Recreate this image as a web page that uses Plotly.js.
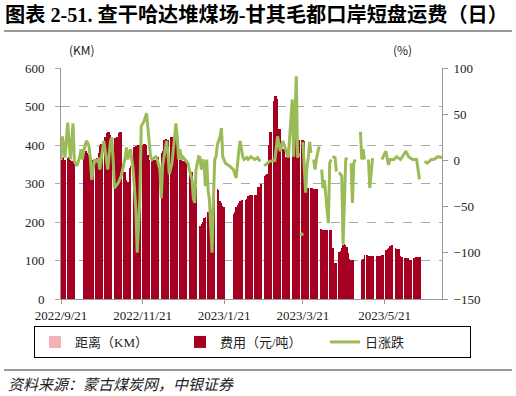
<!DOCTYPE html>
<html>
<head>
<meta charset="utf-8">
<script src="https://cdn.plot.ly/plotly-3.0.1.min.js"></script>
<style>html,body{margin:0;padding:0;background:#fff;}#chart{width:516px;height:396px;}</style>
</head>
<body>
<div id="chart"></div>
<script>
// ---- data ----
const titleText = '图表 2-51. 查干哈达堆煤场-甘其毛都口岸短盘运费（日）';
const sourceText = '资料来源：蒙古煤炭网，中银证券';
const seriesNames = ['距离（KM）', '费用（元/吨）', '日涨跌'];
const tickDates = ['2022-09-21', '2022-11-21', '2023-01-21', '2023-03-21', '2023-05-21'];
const tickLabels = ['2022/9/21', '2022/11/21', '2023/1/21', '2023/3/21', '2023/5/21'];

// fee (元/吨), one row per week Mon..Sun, first Monday below
const feeFirstMonday = '2022-09-19';
const feeWeeks = [
  [null,null,360,365,370,360,null],
  [365,370,360,358,358,358,null],
  [null,null,null,null,null,385,385],
  [385,380,375,370,365,360,null],
  [360,365,380,398,402,402,null],
  [420,432,433,433,425,418,null],
  [418,418,420,430,433,433,null],
  [330,330,308,305,340,345,null],
  [395,396,398,400,400,400,null],
  [400,403,403,400,375,362,null],
  [362,362,360,362,368,370,null],
  [380,385,412,415,415,412,null],
  [420,422,422,423,423,423,null],
  [362,360,358,358,358,358,null],
  [335,333,330,300,292,292,null],
  [null,190,195,200,210,212,null],
  [225,226,228,230,284,285,null],
  [285,282,255,250,242,240,null],
  [null,null,null,null,null,222,225],
  [240,245,250,255,256,256,null],
  [258,260,268,270,270,270,null],
  [270,270,290,292,298,300,null],
  [320,323,325,400,435,435,null],
  [515,526,526,520,441,441,null],
  [390,388,370,368,390,392,null],
  [418,418,418,412,412,412,null],
  [412,412,410,340,288,288,null],
  [288,288,287,287,286,286,null],
  [182,182,178,178,178,178,null],
  [178,178,132,132,93,93,null],
  [123,124,132,140,142,140,135],
  [120,103,102,102,102,null,null],
  [null,null,null,102,103,115,null],
  [115,113,111,111,111,111,null],
  [111,111,111,113,115,115,null],
  [128,130,132,138,140,140,null],
  [132,130,130,130,112,110,null],
  [106,106,106,106,102,102,null],
  [106,108,108,108,110,110,null]
];

// daily change (%), null = break in the line
const chgDates = [
 '2022-09-21','2022-09-22','2022-09-24','2022-09-26','2022-09-28','2022-09-30','2022-10-01','2022-10-03','2022-10-05','2022-10-06',
 '2022-10-07','2022-10-08','2022-10-10','2022-10-11','2022-10-12','2022-10-13','2022-10-14','2022-10-16','2022-10-17','2022-10-19',
 '2022-10-20','2022-10-21','2022-10-23','2022-10-25','2022-10-26','2022-10-28','2022-10-29','2022-10-30','2022-10-31','2022-11-03',
 '2022-11-05','2022-11-08','2022-11-09','2022-11-10','2022-11-12','2022-11-14','2022-11-16','2022-11-17','2022-11-19','2022-11-20',
 '2022-11-22','2022-11-24','2022-11-25','2022-11-27','2022-11-28','2022-11-30','2022-12-01','2022-12-02','2022-12-04','2022-12-05',
 '2022-12-06','2022-12-08','2022-12-09','2022-12-10','2022-12-11','2022-12-13','2022-12-14','2022-12-16','2022-12-17','2022-12-18',
 '2022-12-19','2022-12-20','2022-12-21','2022-12-23','2022-12-25','2022-12-26','2022-12-28','2022-12-29','2022-12-30','2022-12-31',
 '2023-01-02','2023-01-03','2023-01-04','2023-01-05','2023-01-06','2023-01-07','2023-01-08','2023-01-09','2023-01-10','2023-01-11',
 '2023-01-12','2023-01-13','2023-01-14','2023-01-15','2023-01-16','2023-01-18','2023-01-19','2023-01-20','2023-01-22','2023-01-25',
 '2023-01-28','2023-01-30','2023-01-31','2023-02-01','2023-02-02','2023-02-04','2023-02-05','2023-02-07','2023-02-08','2023-02-10',
 '2023-02-13','2023-02-15','2023-02-17','2023-02-18',
 '2023-02-20','2023-02-24','2023-02-28','2023-03-02','2023-03-04','2023-03-06','2023-03-08','2023-03-10','2023-03-13','2023-03-14',
 '2023-03-16','2023-03-17','2023-03-18','2023-03-19',
 '2023-03-20','2023-03-20',
 '2023-03-21','2023-03-23','2023-03-24','2023-03-25','2023-03-26','2023-03-27','2023-03-28',
 '2023-03-29','2023-03-30','2023-03-31','2023-04-02','2023-04-03',
 '2023-04-04','2023-04-05','2023-04-06','2023-04-09','2023-04-10','2023-04-11','2023-04-11',
 '2023-04-12','2023-04-14','2023-04-15','2023-04-16',
 '2023-04-17','2023-04-19','2023-04-20','2023-04-22','2023-04-23','2023-04-24',
 '2023-04-26','2023-04-27','2023-04-28','2023-04-29','2023-04-30',
 '2023-05-03','2023-05-04','2023-05-05','2023-05-06','2023-05-07',
 '2023-05-09','2023-05-10','2023-05-12','2023-05-13','2023-05-14',
 '2023-05-19','2023-05-22','2023-05-24','2023-05-25','2023-05-28','2023-05-30','2023-06-02','2023-06-06','2023-06-08','2023-06-11',
 '2023-06-14','2023-06-16','2023-06-17','2023-06-18',
 '2023-06-20','2023-06-22','2023-06-25','2023-06-27','2023-06-30','2023-07-03'
];
const chgValues = [
 1,26,3,41,1,40,-1,-6,4,12,
 1,10,21,19,15,1,-21,1,-1,1,
 -10,1,21,1,-10,21,25,1,-30,-24,
 -17,3,14,1,12,-10,-53,-100,-42,37,
 42,51,37,4,1,3,4,1,-10,-41,
 -6,12,21,8,-15,-3,12,40,24,1,
 12,1,4,1,-3,-10,-21,-41,-46,-10,
 4,3,-10,1,-3,-28,1,-32,-42,-71,
 -100,-42,1,4,17,26,35,4,-3,-6,
 -10,-19,1,10,21,4,1,3,1,4,
 1,3,-1,null,
 -6,-1,0,26,10,21,12,3,66,4,
 91,3,8,null,
 -80,null,
 20,-35,-7,3,20,8,null,
 1,-10,1,15,null,
 -10,-30,-21,-68,-3,1,null,
 4,3,-12,null,
 -13,-17,-91,1,3,null,
 -3,-46,-3,1,null,
 31,1,12,1,null,
 1,-30,1,1,null,
 1,10,-5,1,1,4,1,10,4,1,
 1,-19,-19,null,
 -1,-3,1,1,4,3
];

// ---- build ----
const feeDates = [], feeVals = [];
const base = new Date(feeFirstMonday + 'T00:00:00Z').getTime();
feeWeeks.forEach((wk, w) => wk.forEach((v, i) => {
  const d = new Date(base + (w * 7 + i) * 86400000);
  feeDates.push(d.toISOString().slice(0, 10));
  feeVals.push(v);
}));

// isolated change points (no neighbour) drawn as dots
const isoX = [], isoY = [];
chgValues.forEach((v, i) => {
  if (v === null) return;
  const prev = i > 0 ? chgValues[i - 1] : null;
  const next = i < chgValues.length - 1 ? chgValues[i + 1] : null;
  if (prev === null && next === null) { isoX.push(chgDates[i]); isoY.push(v); }
});

const RED = '#A50021', GREEN = '#9BBB59', PINK = '#F2B3B6';
const serif = 'Liberation Serif, "Noto Sans CJK SC", serif';
const cjk = '"Noto Sans CJK SC", sans-serif';

const traces = [
  {type: 'bar', name: seriesNames[0], x: [null], y: [null], marker: {color: PINK}, showlegend: true},
  {type: 'bar', name: seriesNames[1], x: feeDates, y: feeVals, marker: {color: RED, line: {width: 0}}},
  {type: 'scatter', mode: 'lines', name: seriesNames[2], x: chgDates, y: chgValues, yaxis: 'y2',
   connectgaps: false, line: {color: GREEN, width: 3}},
  {type: 'scatter', mode: 'markers', x: isoX, y: isoY, yaxis: 'y2', showlegend: false,
   marker: {color: GREEN, size: 4}, hoverinfo: 'skip'}
];

// plot area: x 61..442, y 68..299
const L = 61, R = 442, T = 68, B = 299;
const px = x => (x - L) / (R - L);
const py = y => (B - y) / (B - T);

const layout = {
  width: 516, height: 396,
  margin: {l: L, r: 516 - R, t: T, b: 396 - B, pad: 0},
  paper_bgcolor: '#fff', plot_bgcolor: '#fff',
  barmode: 'overlay', bargap: 0,
  showlegend: true,
  title: {text: '<b>' + titleText + '</b>', x: 5 / 516, xanchor: 'left', y: 1 - 15 / 396, yanchor: 'middle',
          font: {family: serif, size: 20.2, color: '#000'}},
  xaxis: {type: 'date', range: ['2022-09-21', '2023-07-03'], tickvals: tickDates, ticktext: tickLabels,
          showgrid: false, showline: true, linecolor: '#999', linewidth: 1, ticks: 'outside', ticklen: 4,
          tickcolor: '#999', tickfont: {family: serif, size: 13, color: '#222'}, zeroline: false, fixedrange: true},
  yaxis: {range: [0, 600], tickvals: [0,100,200,300,400,500,600], showgrid: true, gridcolor: '#AAAAAA',
          griddash: 'dash', gridwidth: 1, showline: true, linecolor: '#999', ticks: 'outside', ticklen: 5,
          tickcolor: '#AAAAAA', ticklabelstandoff: 8, tickfont: {family: serif, size: 13, color: '#222'}, zeroline: false},
  yaxis2: {range: [-150, 100], tickvals: [-150,-100,-50,0,50,100], overlaying: 'y', side: 'right',
           showgrid: false, showline: true, linecolor: '#999', ticks: 'outside', ticklen: 5, tickcolor: '#999',
           ticklabelstandoff: 3, tickfont: {family: serif, size: 13, color: '#222'}, zeroline: false},
  legend: {orientation: 'h', x: px(34), xanchor: 'left', y: py(326), yanchor: 'top',
           bordercolor: '#000', borderwidth: 1, bgcolor: '#fff',
           entrywidth: 100, entrywidthmode: 'pixels',
           font: {family: serif, size: 13, color: '#222'}, traceorder: 'normal'},
  shapes: [
    {type: 'line', xref: 'paper', yref: 'paper', x0: px(4), x1: px(512), y0: py(31), y1: py(31),
     line: {color: '#777', width: 1.5}},
    {type: 'line', xref: 'paper', yref: 'paper', x0: px(4), x1: px(512), y0: py(370), y1: py(370),
     line: {color: '#777', width: 1.5}}
  ],
  annotations: [
    {text: '(KM)', xref: 'paper', yref: 'paper', x: px(82), y: py(50), xanchor: 'center', yanchor: 'middle',
     showarrow: false, font: {family: cjk, size: 12, color: '#222'}},
    {text: '(%)', xref: 'paper', yref: 'paper', x: px(402), y: py(50), xanchor: 'center', yanchor: 'middle',
     showarrow: false, font: {family: cjk, size: 12, color: '#222'}},
    {text: '<i>' + sourceText + '</i>', xref: 'paper', yref: 'paper', x: px(6), y: py(384), xanchor: 'left',
     yanchor: 'middle', showarrow: false, font: {family: cjk, size: 15, color: '#222'}}
  ]
};

Plotly.newPlot('chart', traces, layout, {displayModeBar: false, staticPlot: true});
</script>
</body>
</html>
